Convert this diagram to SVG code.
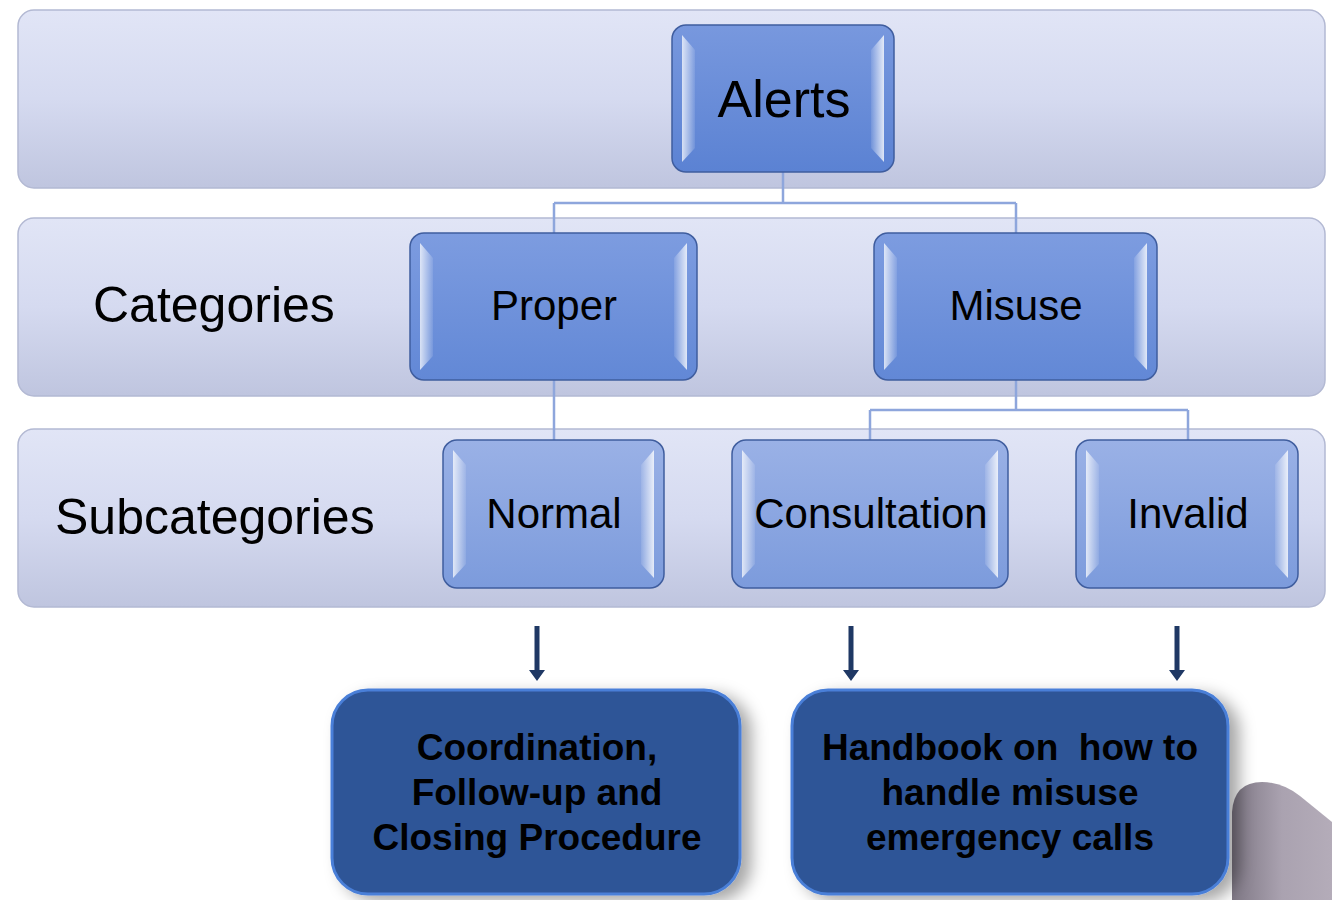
<svg xmlns="http://www.w3.org/2000/svg" width="1332" height="900" viewBox="0 0 1332 900">
<defs>
<linearGradient id="band" x1="0" y1="0" x2="0" y2="1">
<stop offset="0" stop-color="#e1e5f6"/><stop offset="0.5" stop-color="#d5daf0"/><stop offset="1" stop-color="#bfc5df"/>
</linearGradient>
<linearGradient id="nodeA" x1="0" y1="0" x2="0" y2="1">
<stop offset="0" stop-color="#7898de"/><stop offset="1" stop-color="#5b82d3"/>
</linearGradient>
<linearGradient id="nodeB" x1="0" y1="0" x2="0" y2="1">
<stop offset="0" stop-color="#7d9ce0"/><stop offset="1" stop-color="#6288d6"/>
</linearGradient>
<linearGradient id="nodeC" x1="0" y1="0" x2="0" y2="1">
<stop offset="0" stop-color="#9ab1e6"/><stop offset="1" stop-color="#7c9bdc"/>
</linearGradient>
<linearGradient id="bevL" x1="0" y1="0" x2="1" y2="0">
<stop offset="0" stop-color="#ffffff" stop-opacity="0.75"/><stop offset="1" stop-color="#ffffff" stop-opacity="0.1"/>
</linearGradient>
<linearGradient id="bevR" x1="1" y1="0" x2="0" y2="0">
<stop offset="0" stop-color="#ffffff" stop-opacity="0.8"/><stop offset="1" stop-color="#ffffff" stop-opacity="0.1"/>
</linearGradient>
<linearGradient id="gray" x1="0" y1="0" x2="1" y2="0">
<stop offset="0" stop-color="#7f7885"/><stop offset="0.5" stop-color="#aaa2b0"/><stop offset="1" stop-color="#b4acb9"/>
</linearGradient>
<filter id="shadow" x="-10%" y="-10%" width="130%" height="130%">
<feDropShadow dx="10" dy="6" stdDeviation="8" flood-color="#000" flood-opacity="0.35"/>
</filter>
<style>
.band{fill:url(#band);stroke:#b3b9d3;stroke-width:1.5}
.box{stroke:#3f5d9e;stroke-width:1.5}
.lbl{font-family:"Liberation Sans",Arial,sans-serif;fill:#000;text-anchor:middle}
.side{font-family:"Liberation Sans",Arial,sans-serif;fill:#000;font-size:50px}
.bold{font-family:"Liberation Sans",Arial,sans-serif;font-weight:bold;font-size:37px;fill:#000;text-anchor:middle}
.conn{fill:none;stroke:#8ea6dc;stroke-width:2.5}
.arrow{fill:#1f3864}
.proc{fill:#2e5597;stroke:#4a7fd8;stroke-width:3}
</style>
</defs>
<rect width="1332" height="900" fill="#ffffff"/>
<g id="bands">
<rect class="band" x="18" y="10" width="1307" height="178" rx="16"/>
<rect class="band" x="18" y="218" width="1307" height="178" rx="16"/>
<rect class="band" x="18" y="429" width="1307" height="178" rx="16"/>
<text class="side" x="93" y="322">Categories</text>
<text class="side" x="55" y="534">Subcategories</text>
</g>
<g id="connectors">
<path class="conn" d="M783,172 V203 M554,203 H1016 M554,203 V233 M1016,203 V233"/>
<path class="conn" d="M554,380 V440"/>
<path class="conn" d="M1016,380 V410 M870,410 H1188 M870,410 V440 M1188,410 V440"/>
<path class="arrow" d="M534.5,626 H539.5 V670 H545 L537,681 L529,670 H534.5 Z"/>
<path class="arrow" d="M848.5,626 H853.5 V670 H859 L851,681 L843,670 H848.5 Z"/>
<path class="arrow" d="M1174.5,626 H1179.5 V670 H1185 L1177,681 L1169,670 H1174.5 Z"/>
</g>
<g id="alerts">
<rect class="box" x="672" y="25" width="222" height="147" rx="14" fill="url(#nodeA)"/>
<polygon points="682,35 695,50 695,148 682,162" fill="url(#bevL)"/>
<polygon points="884,35 871,50 871,148 884,162" fill="url(#bevR)"/>
<text class="lbl" x="784" y="117" font-size="52">Alerts</text>
</g>
<g id="proper">
<rect class="box" x="410" y="233" width="287" height="147" rx="14" fill="url(#nodeB)"/>
<polygon points="420,243 433,258 433,356 420,370" fill="url(#bevL)"/>
<polygon points="687,243 674,258 674,356 687,370" fill="url(#bevR)"/>
<text class="lbl" x="554" y="320" font-size="42">Proper</text>
</g>
<g id="misuse">
<rect class="box" x="874" y="233" width="283" height="147" rx="14" fill="url(#nodeB)"/>
<polygon points="884,243 897,258 897,356 884,370" fill="url(#bevL)"/>
<polygon points="1147,243 1134,258 1134,356 1147,370" fill="url(#bevR)"/>
<text class="lbl" x="1016" y="320" font-size="42">Misuse</text>
</g>
<g id="normal">
<rect class="box" x="443" y="440" width="221" height="148" rx="14" fill="url(#nodeC)"/>
<polygon points="453,450 466,465 466,564 453,578" fill="url(#bevL)"/>
<polygon points="654,450 641,465 641,564 654,578" fill="url(#bevR)"/>
<text class="lbl" x="554" y="528" font-size="42">Normal</text>
</g>
<g id="consultation">
<rect class="box" x="732" y="440" width="276" height="148" rx="14" fill="url(#nodeC)"/>
<polygon points="742,450 755,465 755,564 742,578" fill="url(#bevL)"/>
<polygon points="998,450 985,465 985,564 998,578" fill="url(#bevR)"/>
<text class="lbl" x="871" y="528" font-size="42">Consultation</text>
</g>
<g id="invalid">
<rect class="box" x="1076" y="440" width="222" height="148" rx="14" fill="url(#nodeC)"/>
<polygon points="1086,450 1099,465 1099,564 1086,578" fill="url(#bevL)"/>
<polygon points="1288,450 1275,465 1275,564 1288,578" fill="url(#bevR)"/>
<text class="lbl" x="1188" y="528" font-size="42">Invalid</text>
</g>
<g id="grayshape">
<path d="M1232,900 V812 Q1234,782 1262,782 Q1282,782 1300,796 L1332,822 V900 Z" fill="url(#gray)"/>
</g>
<g id="procedure">
<rect class="proc" x="332" y="690" width="408" height="204" rx="36" filter="url(#shadow)"/>
<text class="bold" x="537" y="760">Coordination,</text>
<text class="bold" x="537" y="805">Follow-up and</text>
<text class="bold" x="537" y="850">Closing Procedure</text>
</g>
<g id="handbook">
<rect class="proc" x="792" y="690" width="436" height="204" rx="36" filter="url(#shadow)"/>
<text class="bold" x="1010" y="760">Handbook on&#160; how to</text>
<text class="bold" x="1010" y="805">handle misuse</text>
<text class="bold" x="1010" y="850">emergency calls</text>
</g>
</svg>
